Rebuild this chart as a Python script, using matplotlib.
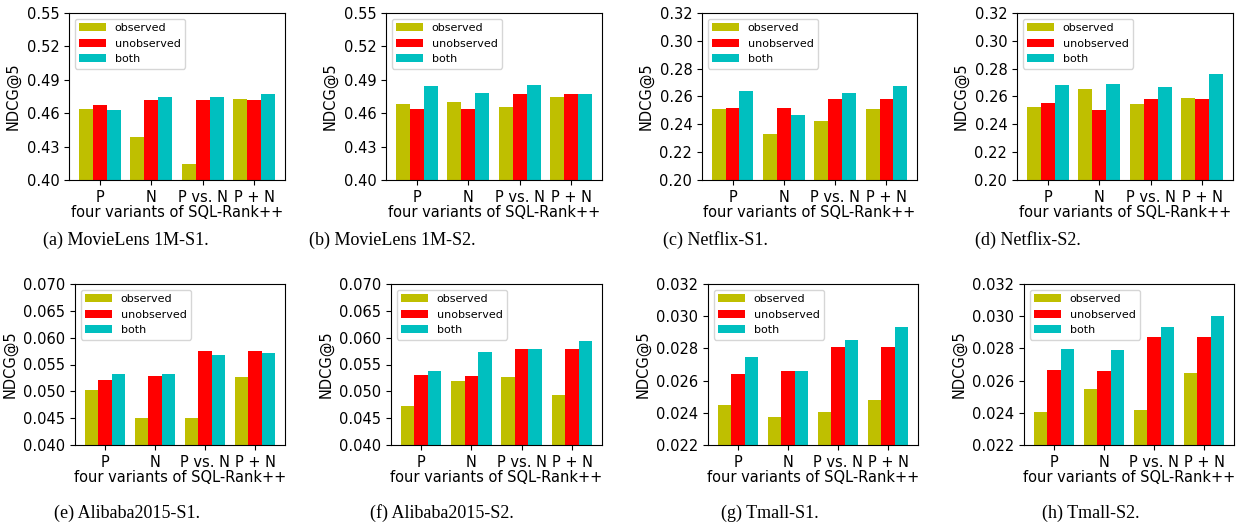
import numpy as np
import matplotlib
matplotlib.use("Agg")
import matplotlib.pyplot as plt

# bar groups and series names
variants = ["P", "N", "P vs. N", "P + N"]
series = ["observed", "unobserved", "both"]
colors = ["y", "r", "c"]

# NDCG@5 values per dataset (observed, unobserved, both)
ml1m_s1 = [[0.4636, 0.4385, 0.4143, 0.4726],
           [0.4672, 0.4717, 0.4717, 0.4717],
           [0.4627, 0.4744, 0.4744, 0.4768]]
ml1m_s2 = [[0.4681, 0.4699, 0.4654, 0.4744],
           [0.4636, 0.4636, 0.4768, 0.4768],
           [0.4843, 0.4780, 0.4852, 0.4768]]
netflix_s1 = [[0.2509, 0.2332, 0.2423, 0.2509],
              [0.2519, 0.2519, 0.2581, 0.2581],
              [0.2638, 0.2466, 0.2624, 0.2674]]
netflix_s2 = [[0.2524, 0.2657, 0.2543, 0.2586],
              [0.2552, 0.2502, 0.2581, 0.2581],
              [0.2681, 0.2688, 0.2667, 0.2760]]
alibaba_s1 = [[0.0503, 0.0451, 0.0451, 0.0527],
              [0.0521, 0.0529, 0.0575, 0.0575],
              [0.0532, 0.0532, 0.0568, 0.0571]]
alibaba_s2 = [[0.0473, 0.0519, 0.0527, 0.0493],
              [0.0531, 0.0529, 0.0579, 0.0579],
              [0.0538, 0.0573, 0.0579, 0.0594]]
tmall_s1 = [[0.02450, 0.02375, 0.02406, 0.02480],
            [0.02641, 0.02660, 0.02808, 0.02808],
            [0.02746, 0.02660, 0.02852, 0.02932]]
tmall_s2 = [[0.02406, 0.02548, 0.02419, 0.02647],
            [0.02666, 0.02660, 0.02870, 0.02870],
            [0.02796, 0.02790, 0.02932, 0.03000]]

captions = ["(a) MovieLens 1M-S1.", "(b) MovieLens 1M-S2.", "(c) Netflix-S1.", "(d) Netflix-S2.",
            "(e) Alibaba2015-S1.", "(f) Alibaba2015-S2.", "(g) Tmall-S1.", "(h) Tmall-S2."]

W, H = 1246, 529
fig = plt.figure(figsize=(W / 100, H / 100), dpi=100)

# (data, yticks, tick format, axes box in pixels: left, right, top, bottom, caption x, caption y)
panels = [
    (ml1m_s1, np.arange(0.40, 0.551, 0.03), "%.2f", (69, 285, 13, 180), 126, 240),
    (ml1m_s2, np.arange(0.40, 0.551, 0.03), "%.2f", (386, 602, 13, 180), 392, 240),
    (netflix_s1, np.arange(0.20, 0.321, 0.02), "%.2f", (702, 917, 13, 180), 715, 240),
    (netflix_s2, np.arange(0.20, 0.321, 0.02), "%.2f", (1017, 1233, 13, 180), 1028, 240),
    (alibaba_s1, np.arange(0.040, 0.0701, 0.005), "%.3f", (75, 285, 284, 445), 127, 513),
    (alibaba_s2, np.arange(0.040, 0.0701, 0.005), "%.3f", (391, 602, 284, 445), 442, 513),
    (tmall_s1, np.arange(0.022, 0.0321, 0.002), "%.3f", (708, 918, 284, 445), 770, 513),
    (tmall_s2, np.arange(0.022, 0.0321, 0.002), "%.3f", (1024, 1234, 284, 445), 1091, 513),
]

x = np.arange(len(variants))
width = 0.27

for (data, yticks, fmt, box, cx, cy), cap in zip(panels, captions):
    l, r, t, b = box
    ax = fig.add_axes([l / W, 1 - b / H, (r - l) / W, (b - t) / H])
    for i, (name, c) in enumerate(zip(series, colors)):
        ax.bar(x + (i - 1) * width, data[i], width, color=c, label=name)
    ax.set_ylim(yticks[0], yticks[-1])
    ax.set_yticks(yticks)
    ax.set_yticklabels([fmt % v for v in yticks], fontsize=10.5)
    ax.set_xticks(x)
    ax.set_xticklabels(variants, fontsize=10.5)
    ax.set_xlabel("four variants of SQL-Rank++", fontsize=10.5, labelpad=0)
    ax.set_ylabel("NDCG@5", fontsize=10.5)
    ax.legend(loc="upper left", fontsize=8, handlelength=2.4)
    fig.text(cx / W, 1 - cy / H, cap, ha="center", va="center",
             family="Liberation Serif", fontsize=13)

fig.savefig("out.png", dpi=100)
